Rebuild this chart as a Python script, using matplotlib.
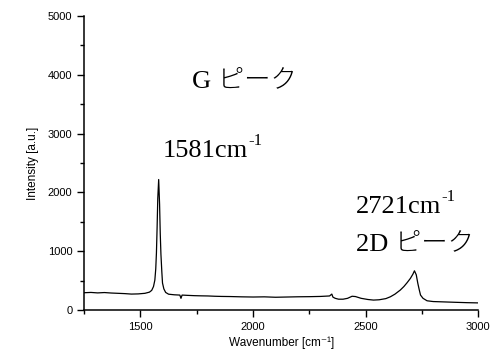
import matplotlib
matplotlib.use("Agg")
import matplotlib.pyplot as plt
from matplotlib.ticker import MultipleLocator
from matplotlib.transforms import offset_copy

# Raman spectrum
wavenumber = [1250, 1280, 1310, 1340, 1370, 1400, 1430, 1460, 1490, 1520,
              1540, 1550, 1558, 1564, 1568, 1571, 1574, 1577, 1581, 1585,
              1588, 1591, 1595, 1598, 1604, 1612, 1625, 1650, 1675, 1680,
              1685, 1710, 1740, 1770, 1800, 1830, 1860, 1900, 1950, 2000,
              2050, 2100, 2150, 2200, 2250, 2300, 2340, 2350, 2355, 2365,
              2380, 2400, 2420, 2440, 2455, 2480, 2510, 2535, 2560, 2590,
              2610, 2630, 2654, 2670, 2684, 2699, 2710, 2717, 2725, 2732,
              2738, 2744, 2755, 2773, 2800, 2832, 2900, 2950, 3000]
intensity = [295, 300, 292, 298, 290, 285, 280, 272, 275, 285,
             305, 335, 400, 510, 700, 970, 1400, 1900, 2220, 1800,
             1300, 950, 650, 460, 360, 300, 270, 260, 255, 200,
             255, 250, 245, 242, 240, 235, 232, 230, 225, 222,
             225, 218, 222, 226, 228, 232, 240, 272, 220, 200,
             185, 185, 200, 235, 230, 200, 180, 170, 175, 195,
             226, 270, 340, 400, 464, 539, 610, 668, 600, 454,
             350, 255, 200, 158, 145, 141, 132, 126, 122]

x_ticks = [1500, 2000, 2500, 3000]
y_ticks = [0, 1000, 2000, 3000, 4000, 5000]

# annotation texts: (main, superscript), placed at baseline in data coords
labels = ["G ピーク", "1581cm", "2721cm", "2D ピーク"]
supers = ["", "-1", "-1", ""]
label_x = [1728, 1599, 2458, 2458]
label_y = [3793, 2602, 1650, 1020]

fig = plt.figure(figsize=(4.95, 3.56), dpi=100)
ax = fig.add_axes([0.170, 0.129, 0.796, 0.826])

ax.plot(wavenumber, intensity, color="black", linewidth=0.9)

ax.set_xlim(1250, 3000)
ax.set_ylim(0, 5000)
ax.set_xticks(x_ticks)
ax.set_yticks(y_ticks)
ax.xaxis.set_minor_locator(MultipleLocator(250))
ax.yaxis.set_minor_locator(MultipleLocator(500))

for s in ["top", "right"]:
    ax.spines[s].set_visible(False)
for s in ["left", "bottom"]:
    ax.spines[s].set_linewidth(1.1)

ax.tick_params(which="major", direction="out", length=5, width=1, labelsize=8)
ax.tick_params(which="minor", direction="out", length=3, width=1)
for t in ax.get_xticklabels() + ax.get_yticklabels():
    t.set_fontfamily("Liberation Sans")

ax.set_xlabel("Wavenumber [cm⁻¹]", fontsize=8.5,
              family=["Liberation Sans", "DejaVu Sans"], labelpad=3)
ax.set_ylabel("Intensity [a.u.]", fontsize=8.5,
              family=["Liberation Sans", "DejaVu Sans"], labelpad=6)

fig.canvas.draw()
renderer = fig.canvas.get_renderer()
for txt, sup, tx, ty in zip(labels, supers, label_x, label_y):
    t = ax.text(tx, ty, txt, fontsize=19, va="baseline", ha="left",
                family=["Liberation Serif", "Noto Sans CJK JP"],
                fontweight="light")
    if sup:
        w = t.get_window_extent(renderer).width
        tr = offset_copy(ax.transData, fig=fig, x=w, y=12.5, units="dots")
        ax.text(tx, ty, sup, fontsize=12, va="baseline", ha="left",
                family="Liberation Serif", transform=tr)

fig.savefig("out.png", dpi=100)
